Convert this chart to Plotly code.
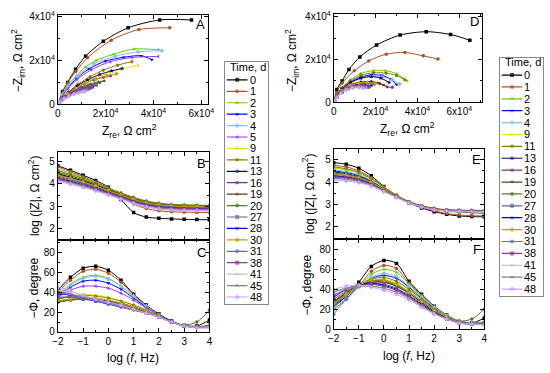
import plotly.graph_objects as go

FONT = "Liberation Sans, Arial, sans-serif"
W, H = 550, 373

# ---------------- data ----------------
LOGF = [-2, -1.5, -1, -0.5, 0, 0.5, 1, 1.5, 2, 2.5, 3, 3.5, 4]

LEFT_TIMES = ["0", "1", "2", "3", "4", "5", "9", "11", "13", "16", "19", "20",
              "27", "28", "30", "31", "38", "41", "45", "48"]
RIGHT_TIMES = ["0", "1", "2", "3", "4", "9", "11", "13", "16", "19", "20",
               "27", "28", "30", "31", "38", "41", "45", "48"]

COLORS = {"0": "#000000", "1": "#B0501E", "2": "#66CC00", "3": "#0000FF",
          "4": "#80C0FF", "5": "#9933FF", "9": "#E6E600", "11": "#808000",
          "13": "#000080", "16": "#7A2E8E", "19": "#5C3A12", "20": "#4F7A28",
          "27": "#5A6E90", "28": "#0000CD", "30": "#C8A000", "31": "#6060FF",
          "38": "#8E3A8E", "41": "#C0C0C0", "45": "#808080", "48": "#C8A0FF"}
SYMBOLS = {"0": "square", "1": "circle", "2": "triangle-up", "3": "triangle-down",
           "4": "diamond", "5": "triangle-left", "9": "triangle-right", "11": "hexagon",
           "13": "star", "16": "pentagon", "19": "triangle-up", "20": "circle",
           "27": "square", "28": "triangle-down", "30": "diamond", "31": "circle",
           "38": "square", "41": "triangle-up", "45": "triangle-up", "48": "diamond"}

# Panel A: Nyquist (left)
A_ZRE = {
    "0": [300, 2000, 4100, 7400, 11600, 19000, 29400, 42600, 55900],
    "1": [300, 1800, 4000, 7500, 12400, 22300, 33900, 46800],
    "2": [300, 1800, 4200, 7800, 11500, 16000, 23000, 31900, 42200],
    "3": [300, 1800, 4200, 7800, 13000, 20000, 27500, 34800, 39300],
    "4": [300, 1800, 4200, 8000, 15000, 24000, 33500, 43500],
    "5": [300, 1800, 4200, 8000, 14000, 22000, 31000, 42000],
    "9": [300, 1800, 4500, 8500, 13500, 19500, 26500, 33500],
    "11": [300, 1800, 4500, 8500, 13500, 19000, 25000, 31000],
    "13": [300, 1800, 4300, 8000, 12500, 17500, 22500, 26900],
    "16": [300, 1700, 4000, 7200, 11000, 15000, 19000, 22000],
    "19": [300, 1600, 3600, 6500, 10000, 13500, 17000, 19400],
    "20": [300, 1500, 3500, 6300, 9500, 12800, 15800, 17500],
    "27": [300, 1500, 3400, 6000, 9000, 12000, 14500, 16000],
    "28": [300, 1400, 3200, 5600, 8400, 11000, 13200, 14500],
    "30": [300, 1700, 4000, 7500, 11500, 16000, 20500, 24500],
    "31": [300, 1300, 3000, 5200, 7800, 10200, 12200, 13500],
    "38": [300, 1400, 3200, 5600, 8300, 11000, 13000, 14300],
    "41": [300, 1200, 2800, 4800, 7000, 9000, 10800, 12000],
    "45": [300, 1300, 2900, 5000, 7300, 9500, 11300, 12500],
    "48": [300, 1200, 2700, 4600, 6700, 8600, 10200, 11300],
}
A_ZIM = {
    "0": [600, 5800, 10000, 16000, 22000, 28800, 35000, 38600, 38600],
    "1": [600, 5200, 9600, 15000, 21300, 29300, 34200, 35000],
    "2": [500, 4500, 8800, 13000, 17000, 20000, 22800, 25300, 24900],
    "3": [500, 3800, 7500, 11800, 16200, 19800, 21500, 22200, 20400],
    "4": [500, 4000, 8000, 12800, 18500, 22000, 24000, 24500],
    "5": [500, 3500, 7000, 11300, 15800, 19500, 21400, 21900],
    "9": [400, 2500, 5000, 8000, 11000, 13700, 16000, 17800],
    "11": [400, 2800, 5600, 9200, 12600, 15600, 17900, 19500],
    "13": [400, 2600, 5300, 8400, 11200, 13600, 15300, 16400],
    "16": [400, 2400, 4800, 7300, 9400, 11100, 12300, 13000],
    "19": [400, 2200, 4200, 6200, 7900, 9200, 10200, 10700],
    "20": [400, 2000, 4000, 5900, 7500, 8700, 9500, 9900],
    "27": [400, 1900, 3800, 5500, 6900, 7900, 8500, 8800],
    "28": [400, 1800, 3500, 5100, 6400, 7300, 7900, 8100],
    "30": [400, 2300, 4700, 7300, 9600, 11600, 13000, 14000],
    "31": [400, 1600, 3200, 4600, 5800, 6600, 7100, 7300],
    "38": [400, 1700, 3400, 5000, 6200, 7100, 7600, 7900],
    "41": [400, 1400, 2800, 4000, 5000, 5700, 6100, 6300],
    "45": [400, 1500, 2900, 4200, 5200, 5900, 6300, 6500],
    "48": [400, 1300, 2600, 3700, 4600, 5200, 5600, 5800],
}

# Panel B: log|Z| vs log f (left)
B_LOGZ = {
    "0": [4.80, 4.60, 4.38, 4.15, 3.85, 3.30, 2.72, 2.52, 2.47, 2.44, 2.42, 2.41, 2.40],
    "1": [4.75, 4.55, 4.32, 4.08, 3.80, 3.45, 3.10, 2.90, 2.80, 2.76, 2.74, 2.73, 2.72],
    "2": [4.65, 4.48, 4.27, 4.03, 3.78, 3.52, 3.28, 3.12, 3.03, 2.98, 2.96, 2.95, 2.94],
    "3": [4.55, 4.38, 4.18, 3.95, 3.72, 3.48, 3.25, 3.08, 2.99, 2.94, 2.92, 2.91, 2.90],
    "4": [4.58, 4.40, 4.20, 3.97, 3.74, 3.50, 3.27, 3.10, 3.01, 2.96, 2.94, 2.93, 2.92],
    "5": [4.45, 4.28, 4.08, 3.88, 3.66, 3.44, 3.22, 3.06, 2.97, 2.92, 2.90, 2.89, 2.88],
    "9": [4.55, 4.40, 4.22, 4.02, 3.80, 3.58, 3.38, 3.22, 3.12, 3.07, 3.05, 3.04, 3.03],
    "11": [4.58, 4.42, 4.24, 4.04, 3.82, 3.60, 3.40, 3.24, 3.14, 3.08, 3.06, 3.05, 3.04],
    "13": [4.45, 4.30, 4.13, 3.94, 3.74, 3.53, 3.34, 3.19, 3.10, 3.05, 3.03, 3.02, 3.01],
    "16": [4.35, 4.20, 4.03, 3.85, 3.66, 3.47, 3.28, 3.13, 3.04, 2.99, 2.97, 2.96, 2.95],
    "19": [4.40, 4.26, 4.10, 3.92, 3.72, 3.52, 3.33, 3.18, 3.09, 3.04, 3.02, 3.01, 3.00],
    "20": [4.50, 4.35, 4.18, 3.98, 3.77, 3.56, 3.36, 3.21, 3.12, 3.07, 3.05, 3.04, 3.03],
    "27": [4.30, 4.16, 4.00, 3.82, 3.63, 3.44, 3.25, 3.10, 3.01, 2.96, 2.94, 2.93, 2.92],
    "28": [4.25, 4.12, 3.96, 3.79, 3.60, 3.41, 3.22, 3.07, 2.98, 2.93, 2.91, 2.90, 2.89],
    "30": [4.38, 4.24, 4.08, 3.90, 3.70, 3.50, 3.31, 3.16, 3.07, 3.02, 3.00, 2.99, 2.98],
    "31": [4.20, 4.07, 3.92, 3.75, 3.57, 3.38, 3.19, 3.04, 2.95, 2.90, 2.88, 2.87, 2.86],
    "38": [4.22, 4.09, 3.94, 3.77, 3.59, 3.40, 3.21, 3.06, 2.97, 2.92, 2.90, 2.89, 2.88],
    "41": [4.15, 4.03, 3.88, 3.72, 3.54, 3.35, 3.16, 3.01, 2.92, 2.87, 2.85, 2.84, 2.83],
    "45": [4.18, 4.05, 3.90, 3.73, 3.55, 3.36, 3.17, 3.02, 2.93, 2.88, 2.86, 2.85, 2.84],
    "48": [4.10, 3.98, 3.84, 3.68, 3.50, 3.31, 3.12, 2.97, 2.88, 2.83, 2.81, 2.80, 2.79],
}

# Panel C: -phase vs log f (left)
C_PHASE = {
    "0": [42, 55, 64, 66, 62, 52, 38, 27, 18, 11, 6.5, 6, 12],
    "1": [40, 52, 61, 63, 59, 50, 37, 26, 17, 10, 6, 5, 7],
    "2": [38, 48, 55, 57, 54, 46, 35, 25, 17, 10, 6, 5, 6],
    "3": [36, 45, 51, 52, 49, 43, 34, 25, 17, 10, 6, 5, 5],
    "4": [37, 47, 54, 56, 53, 46, 36, 26, 17, 10, 6, 5, 6],
    "5": [35, 42, 46, 46, 44, 39, 32, 24, 17, 10, 6, 5, 5],
    "9": [32, 36, 38, 37, 35, 31, 27, 22, 16, 10, 6, 5, 5],
    "11": [33, 36, 37, 36, 34, 31, 27, 22, 16, 10, 6, 5, 6],
    "13": [31, 33, 34, 33, 31, 29, 25, 21, 16, 10, 6, 5, 5],
    "16": [34, 35, 34, 32, 30, 27, 24, 20, 15, 10, 6, 5, 5],
    "19": [30, 32, 33, 32, 30, 28, 25, 21, 16, 10, 6, 5, 6],
    "20": [30, 32, 33, 32, 30, 28, 25, 21, 16, 10, 7, 10, 22],
    "27": [35, 35, 33, 31, 29, 26, 23, 20, 15, 10, 6, 5, 5],
    "28": [38, 37, 34, 31, 28, 25, 22, 19, 15, 10, 6, 5, 5],
    "30": [31, 33, 35, 34, 32, 29, 25, 21, 16, 10, 6, 5, 5],
    "31": [39, 37, 34, 31, 28, 25, 22, 19, 15, 10, 6, 5, 5],
    "38": [40, 38, 35, 32, 29, 26, 23, 19, 15, 10, 6, 5, 5],
    "41": [42, 39, 35, 32, 29, 26, 22, 19, 15, 10, 6, 5, 5],
    "45": [41, 38, 35, 32, 29, 26, 22, 19, 15, 10, 6, 5, 5],
    "48": [45, 41, 37, 33, 30, 27, 23, 19, 15, 10, 6, 4, 4],
}

# Panel D: Nyquist (right)
D_ZRE = {
    "0": [300, 1500, 4000, 7300, 12500, 20500, 31700, 44200, 55800, 65000],
    "1": [300, 1500, 4000, 9800, 16700, 25100, 34000, 42800, 49800],
    "2": [300, 1500, 4000, 8000, 13000, 19000, 24600, 30200, 35000],
    "3": [300, 1500, 4000, 8000, 13000, 18000, 23000, 27000, 30000],
    "4": [300, 1500, 4000, 8000, 13000, 18000, 23000, 28000, 31500],
    "9": [300, 1500, 4000, 8000, 13000, 18000, 22000, 25500],
    "11": [300, 1500, 4000, 8000, 13000, 19000, 25000, 30000, 34000],
    "13": [300, 1500, 4000, 8000, 13000, 18000, 22500, 26500],
    "16": [300, 1500, 4000, 8000, 13000, 18000, 22000, 25500, 28000],
    "19": [300, 1500, 4000, 8000, 13000, 17500, 21000, 24000],
    "20": [300, 1500, 4000, 8000, 12000, 16000, 19500],
    "27": [300, 1500, 4000, 7500, 11500, 15000, 18000],
    "28": [300, 1500, 4000, 7500, 11000, 14500, 17500],
    "30": [300, 1500, 4000, 8000, 12000, 16000, 20000],
    "31": [300, 1500, 4000, 7000, 10500, 14000, 17000],
    "38": [300, 1500, 4000, 7000, 10500, 14000, 16500],
    "41": [300, 1500, 3500, 6500, 10000, 13000, 15500],
    "45": [300, 1500, 3500, 6500, 10000, 13000, 15000],
    "48": [300, 1500, 3500, 6000, 9000, 12000, 14000],
}
D_ZIM = {
    "0": [500, 6000, 10000, 15300, 21200, 26800, 31400, 33000, 31700, 29000],
    "1": [500, 4500, 9000, 14700, 19300, 22500, 23300, 21700, 20200],
    "2": [500, 3500, 7000, 10500, 13500, 14800, 14800, 13300, 10000],
    "3": [500, 3200, 6500, 9500, 11800, 12800, 12600, 11000, 8300],
    "4": [500, 3000, 6000, 9000, 11000, 12000, 11800, 10500, 8500],
    "9": [500, 3000, 6000, 9000, 11000, 11800, 11200, 9500],
    "11": [500, 3300, 6600, 10000, 12600, 13800, 13600, 12500, 10500],
    "13": [500, 3000, 6200, 9200, 11300, 12000, 11300, 9300],
    "16": [500, 2800, 5600, 8200, 9500, 9700, 8800, 7200, 7000],
    "19": [500, 2800, 5600, 8000, 9300, 9500, 9000, 8000],
    "20": [500, 2600, 5200, 7500, 8700, 9000, 8500],
    "27": [500, 2500, 5000, 7200, 8300, 8500, 8000],
    "28": [500, 2500, 4900, 7000, 8000, 8200, 7700],
    "30": [500, 2700, 5400, 7800, 9000, 9200, 8800],
    "31": [500, 2400, 4700, 6600, 7600, 7800, 7300],
    "38": [500, 2400, 4700, 6500, 7500, 7700, 7200],
    "41": [500, 2300, 4400, 6200, 7100, 7300, 6900],
    "45": [500, 2300, 4400, 6100, 7000, 7200, 6800],
    "48": [500, 2200, 4200, 5800, 6700, 6900, 6600],
}

# Panel E: log|Z| vs log f (right)
E_LOGZ = {
    "0": [4.87, 4.80, 4.62, 4.28, 3.80, 3.40, 3.08, 2.85, 2.68, 2.56, 2.49, 2.46, 2.45],
    "1": [4.75, 4.68, 4.50, 4.20, 3.78, 3.40, 3.10, 2.88, 2.72, 2.60, 2.53, 2.50, 2.49],
    "2": [4.62, 4.55, 4.40, 4.13, 3.75, 3.40, 3.11, 2.92, 2.80, 2.74, 2.72, 2.71, 2.70],
    "3": [4.50, 4.43, 4.30, 4.05, 3.70, 3.38, 3.11, 2.93, 2.81, 2.75, 2.73, 2.72, 2.71],
    "4": [4.55, 4.47, 4.33, 4.08, 3.72, 3.39, 3.11, 2.93, 2.81, 2.75, 2.73, 2.72, 2.71],
    "9": [4.65, 4.57, 4.42, 4.15, 3.77, 3.42, 3.13, 2.95, 2.83, 2.77, 2.75, 2.74, 2.73],
    "11": [4.68, 4.60, 4.44, 4.16, 3.78, 3.42, 3.13, 2.95, 2.83, 2.77, 2.75, 2.74, 2.73],
    "13": [4.45, 4.38, 4.25, 4.02, 3.69, 3.38, 3.11, 2.93, 2.81, 2.75, 2.73, 2.72, 2.71],
    "16": [4.35, 4.29, 4.17, 3.97, 3.66, 3.36, 3.10, 2.92, 2.80, 2.74, 2.72, 2.71, 2.70],
    "19": [4.40, 4.33, 4.21, 3.99, 3.67, 3.37, 3.10, 2.92, 2.80, 2.74, 2.72, 2.71, 2.70],
    "20": [4.42, 4.35, 4.22, 4.00, 3.68, 3.37, 3.10, 2.91, 2.78, 2.70, 2.66, 2.63, 2.60],
    "27": [4.30, 4.24, 4.13, 3.94, 3.64, 3.35, 3.09, 2.91, 2.79, 2.73, 2.71, 2.70, 2.69],
    "28": [4.28, 4.22, 4.11, 3.92, 3.63, 3.34, 3.09, 2.91, 2.79, 2.73, 2.71, 2.70, 2.69],
    "30": [4.38, 4.31, 4.19, 3.98, 3.67, 3.37, 3.10, 2.92, 2.80, 2.74, 2.72, 2.71, 2.70],
    "31": [4.22, 4.17, 4.07, 3.89, 3.62, 3.34, 3.09, 2.91, 2.79, 2.73, 2.71, 2.70, 2.69],
    "38": [4.25, 4.19, 4.09, 3.90, 3.62, 3.34, 3.09, 2.91, 2.79, 2.73, 2.71, 2.70, 2.69],
    "41": [4.15, 4.10, 4.01, 3.85, 3.59, 3.32, 3.08, 2.90, 2.78, 2.72, 2.70, 2.69, 2.68],
    "45": [4.18, 4.13, 4.03, 3.86, 3.60, 3.33, 3.08, 2.90, 2.78, 2.72, 2.70, 2.69, 2.68],
    "48": [4.10, 4.05, 3.97, 3.82, 3.57, 3.31, 3.07, 2.89, 2.77, 2.71, 2.69, 2.68, 2.67],
}

# Panel F: -phase vs log f (right)
F_PHASE = {
    "0": [22, 33, 47, 63, 69, 66, 48, 35, 23, 14, 7, 6, 11],
    "1": [20, 30, 43, 58, 64, 61, 46, 34, 22, 14, 8, 6, 7],
    "2": [20, 30, 42, 55, 60, 57, 45, 33, 22, 14, 8, 6, 7],
    "3": [24, 33, 43, 51, 54, 51, 42, 31, 21, 13, 8, 6, 6],
    "4": [22, 31, 42, 52, 56, 53, 43, 32, 22, 13, 8, 6, 6],
    "9": [26, 34, 43, 49, 50, 47, 39, 29, 20, 12, 7, 5, 5],
    "11": [25, 34, 44, 50, 52, 48, 40, 30, 20, 12, 7, 6, 6],
    "13": [27, 36, 44, 48, 49, 45, 37, 28, 19, 12, 7, 5, 5],
    "16": [28, 37, 44, 47, 47, 43, 36, 27, 18, 11, 7, 5, 5],
    "19": [27, 36, 44, 47, 47, 43, 36, 27, 18, 11, 7, 5, 6],
    "20": [26, 35, 44, 48, 48, 44, 37, 28, 19, 12, 8, 10, 20],
    "27": [30, 38, 44, 46, 45, 41, 34, 26, 17, 11, 7, 5, 5],
    "28": [32, 40, 45, 46, 44, 40, 33, 25, 17, 11, 7, 5, 5],
    "30": [26, 35, 44, 49, 49, 45, 37, 28, 19, 12, 7, 5, 5],
    "31": [15, 30, 43, 45, 43, 39, 32, 24, 16, 10, 6, 5, 5],
    "38": [34, 40, 44, 45, 43, 39, 32, 24, 16, 10, 6, 5, 5],
    "41": [38, 41, 43, 43, 41, 37, 31, 23, 16, 10, 6, 5, 5],
    "45": [37, 41, 43, 43, 41, 37, 31, 23, 16, 10, 6, 5, 5],
    "48": [40, 43, 44, 42, 39, 35, 29, 22, 15, 10, 6, 5, 4],
}

NYQ_TICKS = [0, 20000, 40000, 60000]
NYQ_TICKTEXT = ["0", "2x10<sup>4</sup>", "4x10<sup>4</sup>", "6x10<sup>4</sup>"]
NYQ_Y_TICKS = [0, 20000, 40000]
NYQ_Y_TICKTEXT = ["0", "2x10<sup>4</sup>", "4x10<sup>4</sup>"]

# ---------------- figure ----------------
fig = go.Figure()


def px_x(p):
    return p / W


def px_y(p):
    return 1 - p / H


def add_series(times, xmap, ymap, xa, ya):
    for t in times:
        xs = xmap[t] if isinstance(xmap, dict) else xmap
        fig.add_trace(go.Scatter(
            x=xs, y=ymap[t], mode="lines+markers",
            line=dict(color=COLORS[t], width=1, shape="spline", smoothing=0.8),
            marker=dict(symbol=SYMBOLS[t], size=3.5, color=COLORS[t], line=dict(width=0)),
            xaxis=xa, yaxis=ya, showlegend=False, hoverinfo="skip"))


add_series(LEFT_TIMES, A_ZRE, A_ZIM, "x", "y")
add_series(LEFT_TIMES, LOGF, B_LOGZ, "x2", "y2")
add_series(LEFT_TIMES, LOGF, C_PHASE, "x3", "y3")
add_series(RIGHT_TIMES, D_ZRE, D_ZIM, "x4", "y4")
add_series(RIGHT_TIMES, LOGF, E_LOGZ, "x5", "y5")
add_series(RIGHT_TIMES, LOGF, F_PHASE, "x6", "y6")

legend_labels = []


# manual legends (drawn on hidden helper axes)
def add_legend(times, xa, ya, x0, x1, xt):
    for i, t in enumerate(times):
        fig.add_trace(go.Scatter(
            x=[x0, (x0 + x1) / 2, x1], y=[i, i, i], mode="lines+markers",
            line=dict(color=COLORS[t], width=1.2),
            marker=dict(symbol=SYMBOLS[t], size=[0, 4, 0], color=COLORS[t], line=dict(width=0)),
            xaxis=xa, yaxis=ya, showlegend=False, hoverinfo="skip"))
        legend_labels.append(dict(
            text=t, x=xt, y=i, xref=xa, yref=ya, showarrow=False,
            xanchor="left", yanchor="middle",
            font=dict(family=FONT, size=11, color="black")))


add_legend(LEFT_TIMES, "x7", "y7", 0.04, 0.52, 0.54)
add_legend(RIGHT_TIMES, "x8", "y8", 0.04, 0.52, 0.52)


def axis(domain, rng, anchor, tickvals=None, ticktext=None, dtick=None,
         minor_vals=None, minor_dtick=None, labels=True):
    d = dict(domain=domain, range=rng, anchor=anchor, showline=True, linecolor="black",
             linewidth=1, mirror="ticks", ticks="inside", ticklen=4, tickwidth=1,
             tickcolor="black", showgrid=False, zeroline=False, showticklabels=labels,
             tickfont=dict(family=FONT, size=10, color="black"))
    if tickvals is not None:
        d.update(tickmode="array", tickvals=tickvals, ticktext=ticktext)
    else:
        d.update(tickmode="linear", tick0=0, dtick=dtick)
    if minor_vals is not None:
        d["minor"] = dict(ticks="inside", ticklen=2, tickcolor="black", tickwidth=1,
                          tickmode="array", tickvals=minor_vals, showgrid=False)
    elif minor_dtick is not None:
        d["minor"] = dict(ticks="inside", ticklen=2, tickcolor="black", tickwidth=1,
                          tick0=0, dtick=minor_dtick, showgrid=False)
    return d


LX = [px_x(53), px_x(207)]
LX2 = [px_x(53), px_x(208)]
RX = [px_x(335), px_x(487)]
RX2 = [px_x(335), px_x(489)]
AY = [px_y(103), px_y(11)]
BY = [px_y(243), px_y(152)]
CY = [px_y(337), px_y(243)]
DY = [px_y(101), px_y(10)]
EY = [px_y(241), px_y(149)]
FY = [px_y(334), px_y(241)]

nyq_minor_x = [10000, 30000, 50000, 70000]
nyq_minor_y = [10000, 30000]

layout_axes = dict(
    xaxis=axis(LX, [0, 63000], "y", NYQ_TICKS, NYQ_TICKTEXT, minor_vals=nyq_minor_x),
    yaxis=axis(AY, [0, 41000], "x", NYQ_Y_TICKS, NYQ_Y_TICKTEXT, minor_vals=nyq_minor_y),
    xaxis2=axis(LX2, [-2, 4], "y2", dtick=1, minor_dtick=0.5, labels=False),
    yaxis2=axis(BY, [1.48, 5.42], "x2", dtick=1, minor_dtick=0.5),
    xaxis3=axis(LX2, [-2, 4], "y3", dtick=1, minor_dtick=0.5),
    yaxis3=axis(CY, [0, 92], "x3", dtick=20, minor_dtick=10),
    xaxis4=axis(RX, [0, 71000], "y4", NYQ_TICKS, NYQ_TICKTEXT, minor_vals=nyq_minor_x),
    yaxis4=axis(DY, [0, 41400], "x4", NYQ_Y_TICKS, NYQ_Y_TICKTEXT, minor_vals=nyq_minor_y),
    xaxis5=axis(RX2, [-2, 4], "y5", dtick=1, minor_dtick=0.5, labels=False),
    yaxis5=axis(EY, [1.48, 5.48], "x5", dtick=1, minor_dtick=0.5),
    xaxis6=axis(RX2, [-2, 4], "y6", dtick=1, minor_dtick=0.5),
    yaxis6=axis(FY, [0, 91], "x6", dtick=20, minor_dtick=10),
    xaxis7=dict(domain=[px_x(224), px_x(268)], range=[0, 1], anchor="y7", showline=True,
                mirror=True, linecolor="#888888", linewidth=1, showticklabels=False,
                ticks="", showgrid=False, zeroline=False),
    yaxis7=dict(domain=[px_y(308), px_y(60)], range=[19.59, -1.53], anchor="x7",
                showline=True, mirror=True, linecolor="#888888", linewidth=1,
                showticklabels=False, ticks="", showgrid=False, zeroline=False),
    xaxis8=dict(domain=[px_x(505), px_x(549)], range=[0, 1], anchor="y8", showline=True,
                mirror=True, linecolor="#888888", linewidth=1, showticklabels=False,
                ticks="", showgrid=False, zeroline=False),
    yaxis8=dict(domain=[px_y(300), px_y(56)], range=[18.58, -1.39], anchor="x8",
                showline=True, mirror=True, linecolor="#888888", linewidth=1,
                showticklabels=False, ticks="", showgrid=False, zeroline=False),
)


def ann(text, x, y, angle=0, size=12, xanchor="center", yanchor="middle"):
    return dict(text=text, x=px_x(x), y=px_y(y), xref="paper", yref="paper",
                showarrow=False, textangle=angle, xanchor=xanchor, yanchor=yanchor,
                font=dict(family=FONT, size=size, color="black"))


annotations = [
    ann("\u2212Z<sub>im</sub>, \u03a9 cm<sup>2</sup>", 13, 58, angle=-90),
    ann("Z<sub>re</sub>, \u03a9 cm<sup>2</sup>", 126, 130),
    ann("log (|Z|, \u03a9 cm<sup>2</sup>)", 28, 197, angle=-90),
    ann("\u2212\u03a6, degree", 29, 292, angle=-90),
    ann("log (<i>f</i>, Hz)", 130, 364),
    ann("\u2212Z<sub>im</sub>, \u03a9 cm<sup>2</sup>", 293, 58, angle=-90),
    ann("Z<sub>re</sub>, \u03a9 cm<sup>2</sup>", 410, 128),
    ann("log (|Z|, \u03a9 cm<sup>2</sup>)", 309, 195, angle=-90),
    ann("\u2212\u03a6, degree", 308, 289, angle=-90),
    ann("log (<i>f</i>, Hz)", 412, 362),
    ann("A", 205, 21, size=13, xanchor="right"),
    ann("B", 207, 164, size=13, xanchor="right"),
    ann("C", 207, 255, size=13, xanchor="right"),
    ann("D", 486, 18, size=13, xanchor="right"),
    ann("E", 488, 160, size=13, xanchor="right"),
    ann("F", 488, 252, size=13, xanchor="right"),
    dict(text="Time, d", x=0.06, y=-1.12, xref="x7", yref="y7", showarrow=False,
         xanchor="left", yanchor="middle", font=dict(family=FONT, size=11, color="black")),
    dict(text="Time, d", x=0.06, y=-1.06, xref="x8", yref="y8", showarrow=False,
         xanchor="left", yanchor="middle", font=dict(family=FONT, size=11, color="black")),
] + legend_labels

fig.update_layout(
    width=W, height=H, margin=dict(l=0, r=0, t=0, b=0),
    paper_bgcolor="white", plot_bgcolor="white",
    font=dict(family=FONT, size=10, color="black"),
    showlegend=False, annotations=annotations, **layout_axes)

fig.write_html("out.html", config={"displayModeBar": False, "staticPlot": True},
               post_script="document.body.style.margin='0px';document.body.style.overflow='hidden';")
